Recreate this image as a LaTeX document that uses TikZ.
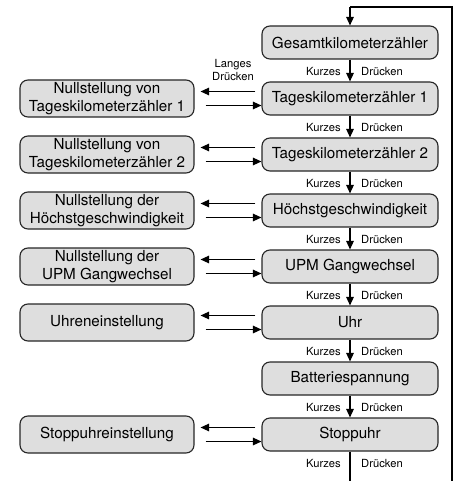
\documentclass[tikz,border=0pt]{standalone}
\usepackage{fontspec}
\setmainfont{TeX Gyre Heros}
\usetikzlibrary{arrows.meta}
\begin{document}
\begin{tikzpicture}[x=1pt,y=-1pt,
  box/.style={draw=black!85,line width=1.1pt,fill=black!13,rounded corners=8pt,
    minimum height=33pt,inner sep=1pt,font=\fontsize{15.2}{17.5}\selectfont,align=center},
  rbox/.style={box,minimum width=176pt},
  lbox/.style={box,minimum width=174pt,minimum height=37pt},
  lab/.style={font=\fontsize{11.2}{12}\selectfont,inner sep=0pt},
  conn/.style={line width=1.3pt,-{Triangle[length=8.5pt,width=7.5pt]}},
  plain/.style={line width=1.3pt}]
\useasboundingbox (0,0) rectangle (457,481);

% right column
\node[rbox] (r0) at (350,42.5)  {Gesamtkilometerzähler};
\node[rbox] (r1) at (350,98.5)  {Tageskilometerzähler 1};
\node[rbox] (r2) at (350,154.5) {Tageskilometerzähler 2};
\node[rbox] (r3) at (350,210.5) {Höchstgeschwindigkeit};
\node[rbox] (r4) at (350,266.5) {UPM Gangwechsel};
\node[rbox] (r5) at (350,322.5) {Uhr};
\node[rbox] (r6) at (350,378.5) {Batteriespannung};
\node[rbox] (r7) at (350,434.5) {Stoppuhr};

% left column
\node[lbox] (l1) at (107,98.5)  {Nullstellung von\\Tageskilometerzähler 1};
\node[lbox] (l2) at (107,154.5) {Nullstellung von\\Tageskilometerzähler 2};
\node[lbox] (l3) at (107,210.5) {Nullstellung der\\Höchstgeschwindigkeit};
\node[lbox] (l4) at (107,266.5) {Nullstellung der\\UPM Gangwechsel};
\node[lbox] (l5) at (107,322.5) {Uhreneinstellung};
\node[lbox] (l7) at (107,434.5) {Stoppuhreinstellung};

% vertical arrows with labels
\foreach \a/\b in {r0/r1,r1/r2,r2/r3,r3/r4,r4/r5,r5/r6,r6/r7}{
  \draw[conn] (\a.south) -- (\b.north);
  \path (\a.south) ++(0,11.5) node[lab,anchor=east] at +(-9,0) {Kurzes}
                              node[lab,anchor=west] at +(11,0) {Drücken};
}
% bottom exit
\coordinate (bot) at (350,481);
\draw[plain] (r7.south) -- (bot);
\path (r7.south) ++(0,11.5) node[lab,anchor=east] at +(-9,0) {Kurzes}
                            node[lab,anchor=west] at +(11,0) {Drücken};

% return loop
\coordinate (c1) at (452,481);
\coordinate (c2) at (452,7);
\coordinate (c3) at (350,7);
\draw[plain] (c1) -- (c2) -- (c3);
\draw[conn] (c3) -- (r0.north);

% horizontal arrow pairs
\foreach \l/\r in {l1/r1,l2/r2,l3/r3,l4/r4,l5/r5,l7/r7}{
  \draw[conn] ([xshift=-6pt,yshift=7pt]\r.west) -- ([xshift=6pt,yshift=7pt]\l.east);
  \draw[conn] ([xshift=11pt,yshift=-7pt]\l.east) -- ([yshift=-7pt]\r.west);
}

% Langes Druecken
\node[lab,align=center,font=\fontsize{11.2}{13}\selectfont] (lang) at (233,70.5) {Langes\\Drücken};
\end{tikzpicture}
\end{document}
